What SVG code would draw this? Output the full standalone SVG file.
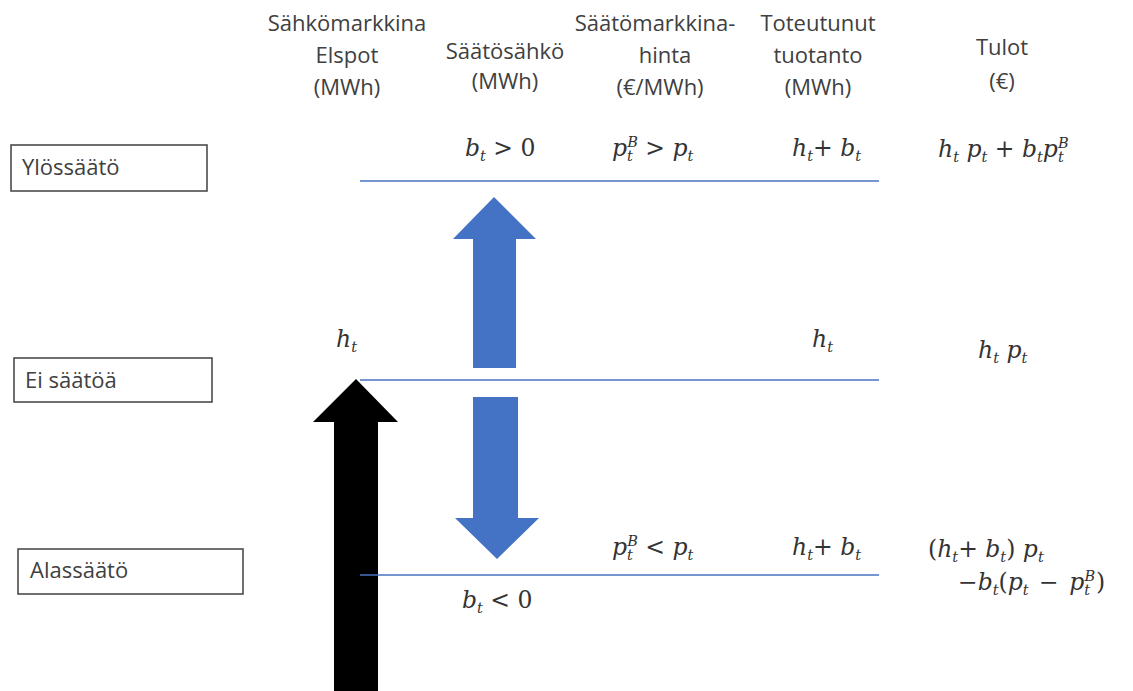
<svg xmlns="http://www.w3.org/2000/svg" width="1133" height="691" viewBox="0 0 1133 691">
<style>
.h{font-family:"Open Sans","Liberation Sans",sans-serif;font-size:22px;fill:#404040;text-anchor:middle}
.lbl{font-family:"Open Sans","Liberation Sans",sans-serif;font-size:22px;fill:#404040}
.box{fill:#fff;stroke:#404040;stroke-width:1.5}
.m{font-family:"DejaVu Serif","Liberation Serif",serif;font-style:italic;font-size:23.5px;fill:#333}
.s{font-size:14.5px}
.r{font-style:normal}
.lvl{stroke:#4a72c0;stroke-width:1.5}
.blue{fill:#4472c4}
</style>
<rect width="1133" height="691" fill="#fff"/>
<g id="headers">
<text class="h" x="347" y="31">Sähkömarkkina</text>
<text class="h" x="347" y="63">Elspot</text>
<text class="h" x="347" y="95">(MWh)</text>
<text class="h" x="505" y="59">Säätösähkö</text>
<text class="h" x="505" y="89">(MWh)</text>
<text class="h" x="655" y="31">Säätömarkkina-</text>
<text class="h" x="665" y="63">hinta</text>
<text class="h" x="660" y="95">(€/MWh)</text>
<text class="h" x="818" y="31">Toteutunut</text>
<text class="h" x="818" y="63">tuotanto</text>
<text class="h" x="818" y="95">(MWh)</text>
<text class="h" x="1002" y="55">Tulot</text>
<text class="h" x="1002" y="89">(€)</text>
</g>
<g id="ylossaato">
<rect class="box" x="11" y="145" width="196" height="46"/>
<text class="lbl" x="22" y="175">Ylössäätö</text>
</g>
<g id="ei-saatoa">
<rect class="box" x="14" y="358" width="198" height="44"/>
<text class="lbl" x="25" y="388">Ei säätöä</text>
</g>
<g id="alassaato">
<rect class="box" x="18" y="549" width="225" height="45"/>
<text class="lbl" x="30" y="578">Alassäätö</text>
</g>
<g id="connectors">
<polygon fill="#000" points="356,379 398,422 378,422 378,691 334,691 334,422 313,422"/>
<polygon class="blue" points="494,197 536,239 516,239 516,368 473,368 473,239 453,239"/>
<polygon class="blue" points="473,397 518,397 518,518 539,518 497,559 455,518 473,518"/>
<line class="lvl" x1="360" y1="181" x2="879" y2="181"/>
<line class="lvl" x1="360" y1="380" x2="879" y2="380"/>
<line class="lvl" x1="360" y1="575" x2="879" y2="575"/>
</g>
<g id="formulas">
<text class="m" x="465" y="156">b<tspan class="s" dy="5">t</tspan><tspan class="r" dy="-5"> &gt; 0</tspan></text>
<text class="m" x="612" y="156">p<tspan class="s" dy="5">t</tspan><tspan class="s" dx="-5.7" dy="-14">B</tspan><tspan class="r" dy="9"> &gt; </tspan>p<tspan class="s" dy="5">t</tspan></text>
<text class="m" x="792" y="156">h<tspan class="s" dy="5">t</tspan><tspan class="r" dy="-5">+ </tspan>b<tspan class="s" dy="5">t</tspan></text>
<text class="m" x="938" y="157">h<tspan class="s" dy="5">t</tspan><tspan dy="-5"> p</tspan><tspan class="s" dy="5">t</tspan><tspan class="r" dy="-5"> + </tspan>b<tspan class="s" dy="5">t</tspan><tspan dy="-5">p</tspan><tspan class="s" dy="5">t</tspan><tspan class="s" dx="-5.7" dy="-14">B</tspan></text>
<text class="m" x="336" y="347">h<tspan class="s" dy="5">t</tspan></text>
<text class="m" x="812" y="347">h<tspan class="s" dy="5">t</tspan></text>
<text class="m" x="978" y="358">h<tspan class="s" dy="5">t</tspan><tspan dy="-5"> p</tspan><tspan class="s" dy="5">t</tspan></text>
<text class="m" x="612" y="555">p<tspan class="s" dy="5">t</tspan><tspan class="s" dx="-5.7" dy="-14">B</tspan><tspan class="r" dy="9"> &lt; </tspan>p<tspan class="s" dy="5">t</tspan></text>
<text class="m" x="792" y="555">h<tspan class="s" dy="5">t</tspan><tspan class="r" dy="-5">+ </tspan>b<tspan class="s" dy="5">t</tspan></text>
<text class="m" x="928" y="557"><tspan class="r">(</tspan>h<tspan class="s" dy="5">t</tspan><tspan class="r" dy="-5">+ </tspan>b<tspan class="s" dy="5">t</tspan><tspan class="r" dy="-5">) </tspan>p<tspan class="s" dy="5">t</tspan></text>
<text class="m" x="958" y="590"><tspan class="r">−</tspan>b<tspan class="s" dy="5">t</tspan><tspan class="r" dy="-5">(</tspan>p<tspan class="s" dy="5">t</tspan><tspan class="r" dx="3" dy="-5"> − </tspan><tspan dx="3">p</tspan><tspan class="s" dy="5">t</tspan><tspan class="s" dx="-5.7" dy="-14">B</tspan><tspan class="r" dx="1" dy="9">)</tspan></text>
<text class="m" x="462" y="608">b<tspan class="s" dy="5">t</tspan><tspan class="r" dy="-5"> &lt; 0</tspan></text>
</g>
</svg>
